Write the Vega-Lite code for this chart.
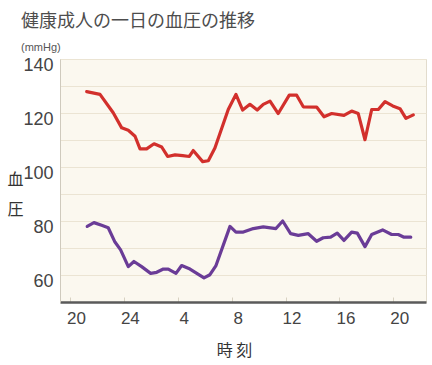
{
  "$schema": "https://vega.github.io/schema/vega-lite/v6.json",
  "autosize": {"type": "none"},
  "padding": {"left": 60, "top": 59, "right": 6, "bottom": 63},
  "width": 366,
  "height": 243,
  "background": "#ffffff",
  "title": {
    "text": "健康成人の一日の血圧の推移",
    "subtitle": "(mmHg)",
    "anchor": "start",
    "frame": "group",
    "dx": -39,
    "offset": 3,
    "font": "Noto Sans CJK JP",
    "fontSize": 18,
    "fontWeight": "normal",
    "color": "#4d4d4d",
    "subtitleFont": "Liberation Sans",
    "subtitleFontSize": 11,
    "subtitleColor": "#555555",
    "subtitlePadding": 11
  },
  "config": {
    "view": {"stroke": "#e2dccd", "fill": "#fbf8ef"}
  },
  "data": {
    "values": [
      {"hour": 21.24, "value": 127.9, "series": "最高血圧"},
      {"hour": 22.23, "value": 126.9, "series": "最高血圧"},
      {"hour": 23.21, "value": 120.1, "series": "最高血圧"},
      {"hour": 23.84, "value": 114.5, "series": "最高血圧"},
      {"hour": 24.33, "value": 113.6, "series": "最高血圧"},
      {"hour": 24.83, "value": 111.4, "series": "最高血圧"},
      {"hour": 25.2, "value": 106.7, "series": "最高血圧"},
      {"hour": 25.69, "value": 106.7, "series": "最高血圧"},
      {"hour": 26.24, "value": 108.6, "series": "最高血圧"},
      {"hour": 26.81, "value": 107.4, "series": "最高血圧"},
      {"hour": 27.25, "value": 103.9, "series": "最高血圧"},
      {"hour": 27.8, "value": 104.5, "series": "最高血圧"},
      {"hour": 28.37, "value": 104.2, "series": "最高血圧"},
      {"hour": 28.86, "value": 103.9, "series": "最高血圧"},
      {"hour": 29.15, "value": 106.1, "series": "最高血圧"},
      {"hour": 29.85, "value": 102.0, "series": "最高血圧"},
      {"hour": 30.27, "value": 102.3, "series": "最高血圧"},
      {"hour": 30.76, "value": 107.0, "series": "最高血圧"},
      {"hour": 31.75, "value": 121.3, "series": "最高血圧"},
      {"hour": 32.32, "value": 126.9, "series": "最高血圧"},
      {"hour": 32.82, "value": 121.1, "series": "最高血圧"},
      {"hour": 33.36, "value": 123.2, "series": "最高血圧"},
      {"hour": 33.9, "value": 121.1, "series": "最高血圧"},
      {"hour": 34.35, "value": 123.2, "series": "最高血圧"},
      {"hour": 34.85, "value": 124.4, "series": "最高血圧"},
      {"hour": 35.46, "value": 119.8, "series": "最高血圧"},
      {"hour": 36.28, "value": 126.6, "series": "最高血圧"},
      {"hour": 36.83, "value": 126.6, "series": "最高血圧"},
      {"hour": 37.32, "value": 122.3, "series": "最高血圧"},
      {"hour": 38.31, "value": 122.2, "series": "最高血圧"},
      {"hour": 38.86, "value": 118.6, "series": "最高血圧"},
      {"hour": 39.43, "value": 119.8, "series": "最高血圧"},
      {"hour": 40.34, "value": 119.1, "series": "最高血圧"},
      {"hour": 40.91, "value": 120.7, "series": "最高血圧"},
      {"hour": 41.4, "value": 119.8, "series": "最高血圧"},
      {"hour": 41.9, "value": 110.1, "series": "最高血圧"},
      {"hour": 42.4, "value": 121.3, "series": "最高血圧"},
      {"hour": 42.89, "value": 121.3, "series": "最高血圧"},
      {"hour": 43.39, "value": 124.2, "series": "最高血圧"},
      {"hour": 43.96, "value": 122.6, "series": "最高血圧"},
      {"hour": 44.5, "value": 121.6, "series": "最高血圧"},
      {"hour": 44.94, "value": 118.0, "series": "最高血圧"},
      {"hour": 45.49, "value": 119.3, "series": "最高血圧"},
      {"hour": 21.28, "value": 78.0, "series": "最低血圧"},
      {"hour": 21.78, "value": 79.4, "series": "最低血圧"},
      {"hour": 22.35, "value": 78.4, "series": "最低血圧"},
      {"hour": 22.84, "value": 77.5, "series": "最低血圧"},
      {"hour": 23.34, "value": 72.2, "series": "最低血圧"},
      {"hour": 23.76, "value": 69.3, "series": "最低血圧"},
      {"hour": 24.33, "value": 63.1, "series": "最低血圧"},
      {"hour": 24.75, "value": 65.0, "series": "最低血圧"},
      {"hour": 25.32, "value": 63.1, "series": "最低血圧"},
      {"hour": 25.99, "value": 60.6, "series": "最低血圧"},
      {"hour": 26.44, "value": 61.0, "series": "最低血圧"},
      {"hour": 26.93, "value": 62.2, "series": "最低血圧"},
      {"hour": 27.3, "value": 62.2, "series": "最低血圧"},
      {"hour": 27.87, "value": 60.6, "series": "最低血圧"},
      {"hour": 28.29, "value": 63.5, "series": "最低血圧"},
      {"hour": 28.91, "value": 62.2, "series": "最低血圧"},
      {"hour": 29.95, "value": 58.9, "series": "最低血圧"},
      {"hour": 30.39, "value": 60.1, "series": "最低血圧"},
      {"hour": 30.84, "value": 63.5, "series": "最低血圧"},
      {"hour": 31.88, "value": 78.0, "series": "最低血圧"},
      {"hour": 32.32, "value": 75.9, "series": "最低血圧"},
      {"hour": 32.87, "value": 75.9, "series": "最低血圧"},
      {"hour": 33.61, "value": 77.2, "series": "最低血圧"},
      {"hour": 34.35, "value": 77.8, "series": "最低血圧"},
      {"hour": 35.29, "value": 77.2, "series": "最低血圧"},
      {"hour": 35.79, "value": 80.0, "series": "最低血圧"},
      {"hour": 36.38, "value": 75.3, "series": "最低血圧"},
      {"hour": 36.95, "value": 74.7, "series": "最低血圧"},
      {"hour": 37.69, "value": 75.3, "series": "最低血圧"},
      {"hour": 38.31, "value": 72.5, "series": "最低血圧"},
      {"hour": 38.8, "value": 73.8, "series": "最低血圧"},
      {"hour": 39.35, "value": 74.0, "series": "最低血圧"},
      {"hour": 39.84, "value": 75.5, "series": "最低血圧"},
      {"hour": 40.34, "value": 72.8, "series": "最低血圧"},
      {"hour": 40.91, "value": 75.9, "series": "最低血圧"},
      {"hour": 41.33, "value": 75.5, "series": "最低血圧"},
      {"hour": 41.9, "value": 70.5, "series": "最低血圧"},
      {"hour": 42.4, "value": 75.0, "series": "最低血圧"},
      {"hour": 43.21, "value": 76.7, "series": "最低血圧"},
      {"hour": 43.88, "value": 75.0, "series": "最低血圧"},
      {"hour": 44.37, "value": 75.0, "series": "最低血圧"},
      {"hour": 44.8, "value": 74.0, "series": "最低血圧"},
      {"hour": 45.3, "value": 74.0, "series": "最低血圧"}
    ]
  },
  "mark": {"type": "line", "strokeWidth": 3.2, "strokeJoin": "round", "strokeCap": "round"},
  "encoding": {
    "x": {
      "field": "hour",
      "type": "quantitative",
      "scale": {"domain": [19.26, 46.43], "nice": false, "zero": false},
      "axis": {
        "values": [20, 24, 28, 32, 36, 40, 44],
        "labelExpr": "datum.value == 24 ? '24' : '' + (datum.value % 24)",
        "grid": false,
        "domainColor": "#5a5a5a",
        "domainWidth": 2.6,
        "ticks": true,
        "tickSize": -5,
        "tickColor": "#d8d2c2",
        "tickWidth": 1,
        "labelOffset": 6,
        "labelPadding": 13,
        "labelFont": "Liberation Sans",
        "labelFontSize": 17,
        "labelColor": "#444444",
        "title": "時 刻",
        "titleFont": "Noto Sans CJK JP",
        "titleFontSize": 16,
        "titleFontWeight": "normal",
        "titleColor": "#333333",
        "titleX": 174,
        "titleY": 48,
        "titleAlign": "center",
        "titleBaseline": "middle"
      }
    },
    "y": {
      "field": "value",
      "type": "quantitative",
      "scale": {"domain": [50, 140], "nice": false, "zero": false},
      "axis": {
        "values": [50, 60, 70, 80, 90, 100, 110, 120, 130, 140],
        "labelExpr": "datum.value % 20 == 0 ? datum.label : ''",
        "grid": true,
        "gridColor": "#ebe4d3",
        "gridWidth": 1,
        "ticks": false,
        "domainColor": "#cfcabd",
        "domainWidth": 1,
        "labelPadding": 7,
        "labelOffset": 6,
        "labelFont": "Liberation Sans",
        "labelFontSize": 18,
        "labelColor": "#444444",
        "title": ["血", "圧"],
        "titleFont": "Noto Sans CJK JP",
        "titleFontSize": 16,
        "titleFontWeight": "normal",
        "titleColor": "#333333",
        "titleAngle": 0,
        "titleAlign": "center",
        "titleBaseline": "middle",
        "titleLineHeight": 30,
        "titleX": -45,
        "titleY": 120
      }
    },
    "color": {
      "field": "series",
      "type": "nominal",
      "scale": {"domain": ["最高血圧", "最低血圧"], "range": ["#d2302c", "#6a3c97"]},
      "legend": null
    }
  }
}
